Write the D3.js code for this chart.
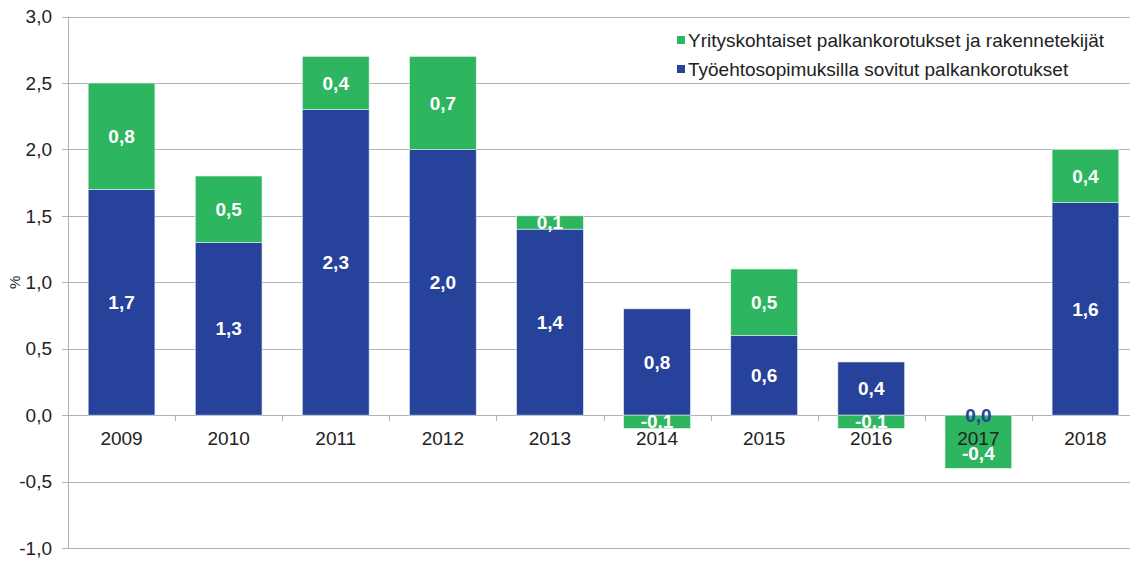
<!DOCTYPE html>
<html>
<head>
<meta charset="utf-8">
<script src="https://cdn.jsdelivr.net/npm/d3@7"></script>
<style>
  html, body { margin: 0; padding: 0; background: #fff; }
  svg { display: block; font-family: "Liberation Sans", Arial, sans-serif; }
</style>
</head>
<body>
<div id="chart"></div>
<script>
const years = ["2009", "2010", "2011", "2012", "2013", "2014", "2015", "2016", "2017", "2018"];
// Työehtosopimuksilla sovitut palkankorotukset
const agreed = [1.7, 1.3, 2.3, 2.0, 1.4, 0.8, 0.6, 0.4, 0.0, 1.6];
// Yrityskohtaiset palkankorotukset ja rakennetekijät
const company = [0.8, 0.5, 0.4, 0.7, 0.1, -0.1, 0.5, -0.1, -0.4, 0.4];
const yTicks = [-1.0, -0.5, 0.0, 0.5, 1.0, 1.5, 2.0, 2.5, 3.0];
const legendLabels = [
  "Yrityskohtaiset palkankorotukset ja rakennetekijät",
  "Työehtosopimuksilla sovitut palkankorotukset"
];

const width = 1130, height = 561;
const BLUE = "#27429a", GREEN = "#2db560", GRID = "#b3b3b3";
const FS = "19px";
const fmt = v => d3.format(".1f")(v).replace(".", ",").replace("−", "-");

const svg = d3.select("#chart").append("svg")
  .attr("width", width)
  .attr("height", height);

const x = d3.scaleBand().domain(years).range([68, 1139]).paddingInner(0.377).paddingOuter(0.1885);
const y = d3.scaleLinear().domain([-1, 3]).range([548, 16.6]);

// grid
svg.append("g")
  .selectAll("line")
  .data(yTicks)
  .join("line")
  .attr("x1", 62).attr("x2", width)
  .attr("y1", d => Math.round(y(d)) + 0.5).attr("y2", d => Math.round(y(d)) + 0.5)
  .style("stroke", GRID).style("stroke-width", 1);

// y tick labels
svg.append("g")
  .selectAll("text")
  .data(yTicks)
  .join("text")
  .attr("x", 52)
  .attr("y", d => y(d))
  .attr("dy", "0.35em")
  .attr("text-anchor", "end")
  .style("font-size", FS)
  .style("fill", "#222")
  .text(fmt);

// y axis line
svg.append("line")
  .attr("x1", 68.5).attr("x2", 68.5)
  .attr("y1", y(3)).attr("y2", y(-1))
  .style("stroke", GRID);

svg.append("text")
  .attr("transform", `translate(20,${y(1)}) rotate(-90)`)
  .attr("text-anchor", "middle")
  .style("font-size", "15px")
  .style("fill", "#222")
  .text("%");

// bars: blue stacked from zero, green on top of blue (or below zero when negative)
const rows = years.map((yr, i) => {
  const b = agreed[i], g = company[i];
  const g0 = g >= 0 ? b : 0, g1 = g >= 0 ? b + g : g;
  return { yr, b, g, g0, g1 };
});

const bars = svg.append("g");
bars.selectAll("rect.agreed")
  .data(rows.filter(d => d.b !== 0))
  .join("rect")
  .attr("class", "agreed")
  .attr("x", d => x(d.yr))
  .attr("width", x.bandwidth())
  .attr("y", d => y(d.b))
  .attr("height", d => y(0) - y(d.b))
  .style("fill", BLUE)
  .style("stroke", "#dfe6f2").style("stroke-width", 0.6);

bars.selectAll("rect.company")
  .data(rows)
  .join("rect")
  .attr("class", "company")
  .attr("x", d => x(d.yr))
  .attr("width", x.bandwidth())
  .attr("y", d => y(Math.max(d.g0, d.g1)))
  .attr("height", d => Math.abs(y(d.g0) - y(d.g1)))
  .style("fill", GREEN)
  .style("stroke", "#e3f2e8").style("stroke-width", 0.6);

// category ticks on the zero line
svg.append("g")
  .selectAll("line")
  .data(d3.range(years.length + 1))
  .join("line")
  .attr("x1", i => Math.round(68 + i * x.step()) + 0.5)
  .attr("x2", i => Math.round(68 + i * x.step()) + 0.5)
  .attr("y1", y(0)).attr("y2", y(0) + 6)
  .style("stroke", GRID);

// category labels
svg.append("g")
  .selectAll("text")
  .data(years)
  .join("text")
  .attr("x", d => x(d) + x.bandwidth() / 2)
  .attr("y", y(0) + 23)
  .attr("dy", "0.35em")
  .attr("text-anchor", "middle")
  .style("font-size", FS)
  .style("fill", "#222")
  .text(d => d);

// value labels
const labels = svg.append("g")
  .style("font-size", FS)
  .style("font-weight", "bold")
  .attr("text-anchor", "middle");

labels.selectAll("text.agreed")
  .data(rows)
  .join("text")
  .attr("class", "agreed")
  .attr("x", d => x(d.yr) + x.bandwidth() / 2)
  .attr("y", d => y(d.b / 2))
  .attr("dy", "0.35em")
  .style("fill", d => d.b === 0 ? BLUE : "#fff")
  .text(d => fmt(d.b));

labels.selectAll("text.company")
  .data(rows)
  .join("text")
  .attr("class", "company")
  .attr("x", d => x(d.yr) + x.bandwidth() / 2)
  .attr("y", d => {
    const c = y((d.g0 + d.g1) / 2);
    // keep clear of the category label when the segment is deep enough
    return d.g < -0.2 ? c + 12 : c;
  })
  .attr("dy", "0.35em")
  .style("fill", "#fff")
  .text(d => fmt(d.g));

// legend
const legend = svg.append("g").attr("transform", "translate(677,40)");
[GREEN, BLUE].forEach((c, i) => {
  const row = legend.append("g").attr("transform", `translate(0,${i * 29})`);
  row.append("rect")
    .attr("x", 0).attr("y", -4)
    .attr("width", 8).attr("height", 8)
    .style("fill", c);
  row.append("text")
    .attr("x", 11)
    .attr("dy", "0.35em")
    .style("font-size", FS)
    .style("fill", "#222")
    .text(legendLabels[i]);
});
</script>
</body>
</html>
